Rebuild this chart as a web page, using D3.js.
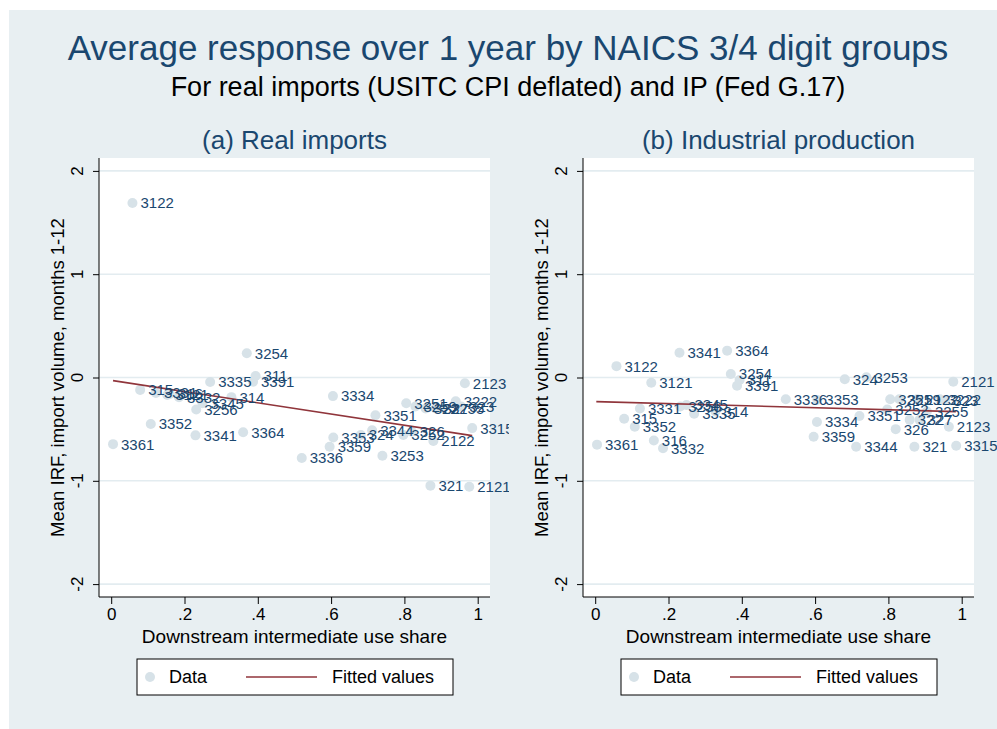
<!DOCTYPE html>
<html>
<head>
<meta charset="utf-8">
<script src="https://cdn.jsdelivr.net/npm/d3@7"></script>
<style>
  body { margin: 0; background: #fff; }
  svg { font-family: "Liberation Sans", Arial, sans-serif; }
</style>
</head>
<body>
<svg id="chart" width="997" height="729"></svg>
<script>
// NAICS groups: downstream share (x) and mean IRF for imports / IP
var codes = ['3361','3122','315','3352','3331','3121','316','3332','3341','3256',
             '3345','3335','314','3364','3254','3391','311','3336','3359','3334',
             '3353','324','3344','3351','3253','3252','3251','326','3259','322',
             '321','327','2122','3255','3222','323','2123','2121','3315'];
var share = [0.005,0.058,0.079,0.108,0.122,0.153,0.160,0.185,0.230,0.232,
             0.249,0.270,0.328,0.360,0.370,0.387,0.394,0.520,0.596,0.605,
             0.606,0.681,0.712,0.721,0.740,0.797,0.805,0.820,0.830,0.858,
             0.871,0.885,0.879,0.905,0.940,0.955,0.965,0.977,0.985];
var irfImports = [-0.645,1.69,-0.12,-0.45,-0.15,-0.17,-0.16,-0.19,-0.56,-0.31,
                  -0.25,-0.044,-0.19,-0.53,0.235,-0.04,0.015,-0.78,-0.67,-0.18,
                  -0.58,-0.557,-0.51,-0.366,-0.757,-0.557,-0.25,-0.525,-0.28,-0.30,
                  -1.047,-0.30,-0.615,-0.30,-0.23,-0.28,-0.056,-1.057,-0.49];
var irfIP = [-0.65,0.11,-0.40,-0.476,-0.30,-0.05,-0.61,-0.685,0.24,-0.28,
             -0.266,-0.35,-0.33,0.26,0.034,-0.08,-0.024,-0.21,-0.573,-0.43,
             -0.218,-0.017,-0.67,-0.373,0.002,-0.31,-0.21,-0.50,-0.21,-0.41,
             -0.67,-0.41,-0.21,-0.33,-0.21,-0.22,-0.476,-0.04,-0.66];
// fitted line end points
var fitImports = [[0.005,-0.03],[0.985,-0.563]];
var fitIP = [[0.003,-0.234],[0.984,-0.33]];
var xTicks = [0,0.2,0.4,0.6,0.8,1];
var xTickLabels = ['0','.2','.4','.6','.8','1'];
var yTicks = [-2,-1,0,1,2];
var yTickLabels = ['-2','-1','0','1','2'];

var svg = d3.select('#chart');
var navy = '#1a476f', dot = '#d7e2e8', fitColor = '#90353b', bg = '#e8eff2';

svg.append('rect').attr('x',9).attr('y',10).attr('width',988).attr('height',719).attr('fill',bg);

svg.append('text').attr('x',508).attr('y',60).attr('text-anchor','middle')
  .attr('font-size',35).attr('fill',navy)
  .text('Average response over 1 year by NAICS 3/4 digit groups');
svg.append('text').attr('x',508).attr('y',96).attr('text-anchor','middle')
  .attr('font-size',27).attr('fill','#000')
  .text('For real imports (USITC CPI deflated) and IP (Fed G.17)');

function panel(left, title, yVals, fit) {
  var pl = left, pr = left + 391, pt = 158, pb = 597;
  var x = d3.scaleLinear().domain([0,1]).range([pl + 12.2, pl + 378.7]);
  var y = d3.scaleLinear().domain([0,1]).range([377.5, 274.2]);
  var g = svg.append('g');

  // panel background (hides label spill from the panel to the left)
  g.append('rect').attr('x',pl - 74).attr('y',120).attr('width',pr - pl + 94).attr('height',520).attr('fill',bg);
  g.append('rect').attr('x',pl).attr('y',pt).attr('width',pr-pl).attr('height',pb-pt).attr('fill','#fff');
  g.append('text').attr('x',(pl+pr)/2).attr('y',149).attr('text-anchor','middle')
    .attr('font-size',26).attr('fill',navy).text(title);

  g.selectAll('.grid').data(yTicks).enter().append('line')
    .attr('x1',pl).attr('x2',pr).attr('y1',y).attr('y2',y)
    .attr('stroke','#e3ecf0').attr('stroke-width',1.6);

  var yAxis = d3.axisLeft(y).tickValues(yTicks).tickSize(6).tickFormat('');
  var ya = g.append('g').attr('transform','translate(' + pl + ',0)').call(yAxis);
  ya.select('.domain').attr('d','M0,' + pt + 'V' + pb).attr('stroke','#000');
  ya.selectAll('.tick line').attr('stroke','#000');
  g.selectAll('.ylab').data(yTicks).enter().append('text')
    .attr('transform', function(d){ return 'translate(' + (pl - 16) + ',' + y(d) + ') rotate(-90)'; })
    .attr('text-anchor','middle').attr('font-size',17)
    .text(function(d,i){ return yTickLabels[i]; });

  var xAxis = d3.axisBottom(x).tickValues(xTicks).tickSize(7).tickPadding(4)
    .tickFormat(function(d,i){ return xTickLabels[i]; });
  var xa = g.append('g').attr('transform','translate(0,' + pb + ')').call(xAxis);
  xa.select('.domain').attr('d','M' + pl + ',0H' + pr).attr('stroke','#000');
  xa.selectAll('.tick line').attr('stroke','#000');
  xa.selectAll('.tick text').attr('font-size',17).attr('fill','#000')
    .attr('font-family','"Liberation Sans", Arial, sans-serif');

  g.append('text').attr('x',x(0.5)).attr('y',643).attr('text-anchor','middle')
    .attr('font-size',19).text('Downstream intermediate use share');
  g.append('text').attr('transform','translate(' + (pl-35) + ',' + y(0) + ') rotate(-90)')
    .attr('text-anchor','middle').attr('font-size',18.5)
    .text('Mean IRF, import volume, months 1-12');

  var pts = codes.map(function(c,i){ return {code:c, x:share[i], y:yVals[i]}; });
  g.selectAll('.pt').data(pts).enter().append('circle')
    .attr('cx',function(d){ return x(d.x); }).attr('cy',function(d){ return y(d.y); })
    .attr('r',5).attr('fill',dot);

  g.append('path').datum(fit)
    .attr('d', d3.line().x(function(d){ return x(d[0]); }).y(function(d){ return y(d[1]); }))
    .attr('stroke',fitColor).attr('stroke-width',1.6).attr('fill','none');

  g.selectAll('.lab').data(pts).enter().append('text')
    .attr('x',function(d){ return x(d.x) + 8; }).attr('y',function(d){ return y(d.y); })
    .attr('dy','0.36em').attr('font-size',15).attr('fill',navy)
    .text(function(d){ return d.code; });

  var lg = g.append('g').attr('transform','translate(' + (pl + 38) + ',659)');
  lg.append('rect').attr('width',316).attr('height',36).attr('fill','#fff').attr('stroke','#000');
  lg.append('circle').attr('cx',13).attr('cy',18).attr('r',5).attr('fill',dot);
  lg.append('text').attr('x',32).attr('y',24).attr('font-size',18).text('Data');
  lg.append('line').attr('x1',109).attr('x2',180).attr('y1',18).attr('y2',18)
    .attr('stroke',fitColor).attr('stroke-width',1.6);
  lg.append('text').attr('x',195).attr('y',24).attr('font-size',18).text('Fitted values');
}

panel(99, '(a) Real imports', irfImports, fitImports);
panel(583, '(b) Industrial production', irfIP, fitIP);
</script>
</body>
</html>
